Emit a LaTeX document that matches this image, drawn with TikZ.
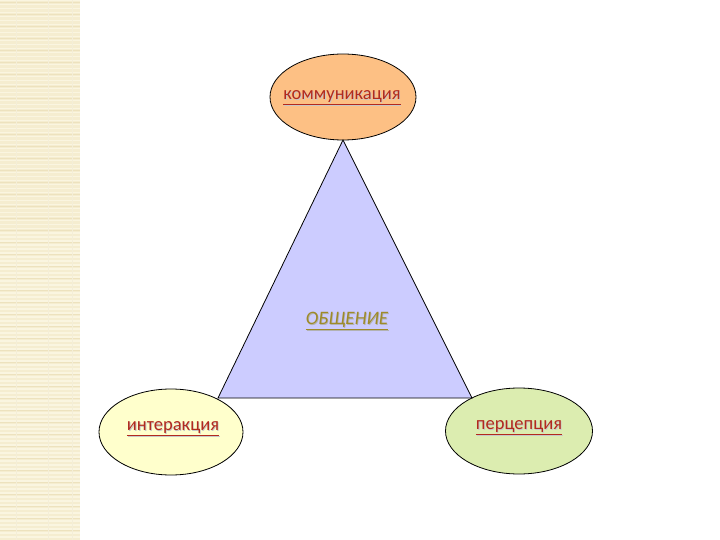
\documentclass[tikz,border=0pt]{standalone}
\usepackage{fontspec}
\setmainfont{Carlito}
\usetikzlibrary{shapes.geometric}
\definecolor{strip}{HTML}{F5EDD0}
\definecolor{stripl}{HTML}{FAF5E0}
\definecolor{stripd}{HTML}{EDE2BE}
\definecolor{topfill}{HTML}{FDC084}
\definecolor{leftfill}{HTML}{FFFFCC}
\definecolor{rightfill}{HTML}{DCEDB0}
\definecolor{trifill}{HTML}{CCCCFF}
\definecolor{lbl}{HTML}{B22A1E}
\definecolor{olive}{HTML}{9E8A2A}
\tikzset{
  bubble/.style={ellipse, draw=black, line width=0.8pt, minimum width=146pt, minimum height=86pt, inner sep=0pt},
  lbltext/.style={font=\fontsize{18.5}{20}\selectfont, text=lbl},
  shadowtext/.style={font=\fontsize{18.5}{20}\selectfont, text=black!22},
  midtext/.style={font=\fontsize{19}{21}\selectfont\itshape},
}
\newcommand{\ulbl}[1]{\underline{#1}}
\begin{document}
\begin{tikzpicture}[x=1pt,y=-1pt]
\useasboundingbox (0,0) rectangle (720,540);
% left strip
\fill[strip] (0,0) rectangle (80,540);
\foreach \yy in {0,4,...,540} {\fill[stripl] (0,\yy) rectangle (80,\yy+1.5);}
\foreach \yy in {2,14,...,540} {\fill[stripd] (0,\yy) rectangle (80,\yy+1);}
\foreach \xx in {16,48,72} {\draw[stripd!60, line width=0.8pt] (\xx,0) -- (\xx,540);}
% nodes
\node[bubble, fill=topfill] (top) at (343,97) {};
\node[bubble, fill=leftfill, minimum width=144pt, minimum height=86pt] (left) at (171,432) {};
\node[bubble, fill=rightfill, minimum width=147pt, minimum height=86pt] (right) at (519,431) {};
\coordinate (apex) at (343,140);
\coordinate (bl) at (218,398);
\coordinate (br) at (472,398);
\draw[fill=trifill, line width=0.8pt] (apex) -- (br) -- (bl) -- cycle;
% labels
\node[shadowtext] at (342.8,98.8) {\ulbl{коммуникация}};
\node[lbltext] (tl) at (342,98) {\ulbl{коммуникация}};
\node[shadowtext] at (173.8,429.8) {\ulbl{интеракция}};
\node[lbltext] (ll) at (173,429) {\ulbl{интеракция}};
\node[shadowtext] at (519.8,428.8) {\ulbl{перцепция}};
\node[lbltext] (rl) at (519,428) {\ulbl{перцепция}};
\node[midtext, text=black!30] at (347.8,321.8) {\ulbl{ОБЩЕНИЕ}};
\node[midtext, text=olive] (mid) at (347,321) {\ulbl{ОБЩЕНИЕ}};
\end{tikzpicture}
\end{document}
